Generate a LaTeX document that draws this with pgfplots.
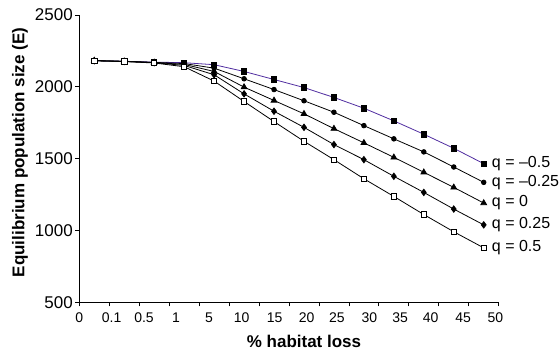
\documentclass[border=0pt]{standalone}
\usepackage{fontspec}
\setmainfont{Liberation Sans}
\usepackage{pgfplots}
\pgfplotsset{compat=1.18}
\definecolor{topline}{RGB}{80,45,160}
\begin{document}
\begin{tikzpicture}
\begin{axis}[
  scale only axis, width=419.4pt, height=287.3pt,
  xmin=0, xmax=14, ymin=500, ymax=2500,
  axis lines*=left,
  axis line style={line width=0.8pt, black},
  clip=false,
  /pgf/number format/assume math mode=true,
  /pgf/number format/1000 sep={},
  xtick={0,...,14}, xticklabels={},
  ytick={500,1000,1500,2000,2500},
  yticklabel style={font=\fontsize{17}{20}\selectfont, xshift=1pt},
  tick align=outside, major tick length=4pt,
  tick style={line width=0.8pt, black},
  extra x ticks={0,1.08,2.16,3.23,4.33,5.42,6.52,7.59,8.60,9.68,10.71,11.73,12.81,13.89},
  extra x tick labels={0,0.1,0.5,1,5,10,15,20,25,30,35,40,45,50},
  extra x tick style={major tick length=0pt, xticklabel style={font=\fontsize{14}{17}\selectfont, anchor=base, yshift=-20.4pt}},
  xlabel={\textbf{\% habitat loss}},
  xlabel style={font=\fontsize{17}{20}\selectfont, at={(rel axis cs:0.5,0)}, anchor=base, yshift=-44.7pt, xshift=15pt},
  ylabel={\textbf{Equilibrium population size (E)}},
  ylabel style={font=\fontsize{17}{20}\selectfont, at={(rel axis cs:-0.1414,0.5214)}, anchor=center},
]
\coordinate (sw) at (rel axis cs:0,0);
\addplot[topline, line width=0.8pt, mark=square*, mark size=2.7pt, mark options={fill=black, draw=black}] coordinates {
(0.5,2182)(1.5,2178)(2.5,2172)(3.5,2168)(4.5,2154)(5.5,2107)(6.5,2051)(7.5,1995)(8.5,1926)(9.5,1851)(10.5,1763)(11.5,1670)(12.5,1572)(13.5,1465)};
\addplot[black, line width=0.8pt, mark=*, mark size=2.3pt] coordinates {
(0.5,2182)(1.5,2178)(2.5,2170)(3.5,2162)(4.5,2130)(5.5,2056)(6.5,1981)(7.5,1903)(8.5,1823)(9.5,1730)(10.5,1638)(11.5,1547)(12.5,1442)(13.5,1335)};
\addplot[black, line width=0.8pt, mark=triangle*, mark size=3.3pt] coordinates {
(0.5,2182)(1.5,2177)(2.5,2169)(3.5,2156)(4.5,2107)(5.5,1998)(6.5,1905)(7.5,1812)(8.5,1709)(9.5,1610)(10.5,1509)(11.5,1405)(12.5,1300)(13.5,1191)};
\addplot[black, line width=0.8pt, mark=diamond*, mark size=3.2pt] coordinates {
(0.5,2182)(1.5,2177)(2.5,2168)(3.5,2149)(4.5,2084)(5.5,1951)(6.5,1830)(7.5,1718)(8.5,1598)(9.5,1493)(10.5,1377)(11.5,1265)(12.5,1149)(13.5,1039)};
\addplot[black, line width=0.8pt, mark=square*, mark size=2.7pt, mark options={fill=white, draw=black}] coordinates {
(0.5,2182)(1.5,2176)(2.5,2166)(3.5,2140)(4.5,2040)(5.5,1898)(6.5,1758)(7.5,1621)(8.5,1493)(9.5,1360)(10.5,1237)(11.5,1111)(12.5,991)(13.5,879)};
\node[anchor=west, font=\fontsize{16}{19}\selectfont, inner sep=0pt, xshift=8pt] at (axis cs:13.5,1465) {q = –0.5};
\node[anchor=west, font=\fontsize{16}{19}\selectfont, inner sep=0pt, xshift=8pt] at (axis cs:13.5,1335) {q = –0.25};
\node[anchor=west, font=\fontsize{16}{19}\selectfont, inner sep=0pt, xshift=8pt] at (axis cs:13.5,1191) {q = 0};
\node[anchor=west, font=\fontsize{16}{19}\selectfont, inner sep=0pt, xshift=8pt] at (axis cs:13.5,1039) {q = 0.25};
\node[anchor=west, font=\fontsize{16}{19}\selectfont, inner sep=0pt, xshift=8pt] at (axis cs:13.5,879) {q = 0.5};
\end{axis}
\pgfresetboundingbox
\path ([shift={(-79.3pt,-51.7pt)}]sw) rectangle ([shift={(479.7pt,302.3pt)}]sw);
\end{tikzpicture}
\end{document}
